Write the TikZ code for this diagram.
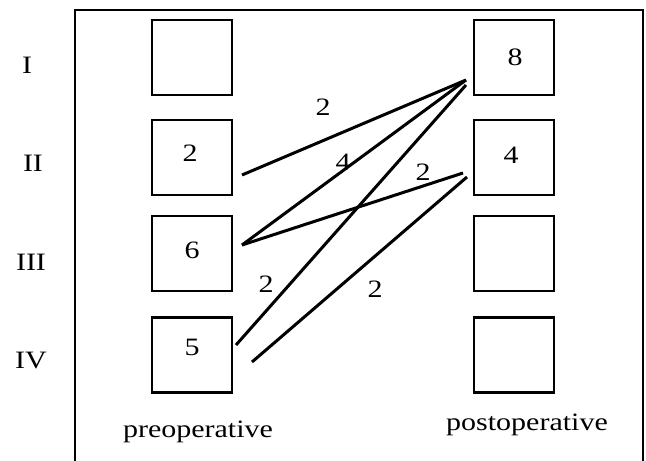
\documentclass[tikz,border=0pt]{standalone}
\usepackage{fontspec}
\setmainfont{Liberation Serif}
\newcommand{\stx}[1]{\scalebox{1.2}[1]{#1}}
\begin{document}
\begin{tikzpicture}[x=1pt,y=-1pt,
  box/.style={draw, line width=2.6pt, minimum width=80pt, minimum height=75pt, inner sep=0pt},
  link/.style={line width=3pt},
  txt/.style={font=\fontsize{25}{25}\selectfont, inner sep=0pt},
]
\useasboundingbox (0,0) rectangle (646,461);
\draw[line width=1.5pt] (75,461) -- (75,10) -- (643,10) -- (643,461);

% boxes
\node[box] (L1) at (192,57.5) {};
\node[box] (L2) at (192,157.5) {};
\node[box] (L3) at (192,253.5) {};
\node[box] (L4) at (192,355) {};
\node[box] (R1) at (514,57.5) {};
\node[box] (R2) at (514,157.5) {};
\node[box] (R3) at (514,253.5) {};
\node[box] (R4) at (514,355) {};

% numbers in boxes
\node[txt] (nL2) at (190,153) {\stx{2}};
\node[txt] (nL3) at (192,250) {\stx{6}};
\node[txt] (nL4) at (192,347) {\stx{5}};
\node[txt] (nR1) at (515,57) {\stx{8}};
\node[txt] (nR2) at (511,155) {\stx{4}};

% row labels
\node[txt] (rI) at (27,65) {\stx{I}};
\node[txt] (rII) at (33,163) {\stx{II}};
\node[txt] (rIII) at (31,262) {\stx{III}};
\node[txt] (rIV) at (31,360) {\stx{IV}};

% column labels
\node[txt] (pre) at (198,432) {\stx{preoperative}};
\node[txt] (post) at (527,425) {\stx{postoperative}};

% connector ends
\coordinate (a1) at (242,175);
\coordinate (a2) at (242,245);
\coordinate (a3) at (236,345);
\coordinate (a4) at (252,362);
\coordinate (b1) at (466,80);
\coordinate (b1b) at (466,85);
\coordinate (b2) at (463,173);
\coordinate (b2b) at (467,177);

\draw[link] (a1) -- (b1);
\draw[link] (a2) -- (b1);
\draw[link] (a2) -- (b2);
\draw[link] (a3) -- (b1b);
\draw[link] (a4) -- (b2b);

% connector labels
\node[txt] (w1) at (323,107) {\stx{2}};
\node[txt] (w2) at (343,162) {\stx{4}};
\node[txt] (w3) at (423,172) {\stx{2}};
\node[txt] (w4) at (266,284) {\stx{2}};
\node[txt] (w5) at (375,289) {\stx{2}};
\end{tikzpicture}
\end{document}
